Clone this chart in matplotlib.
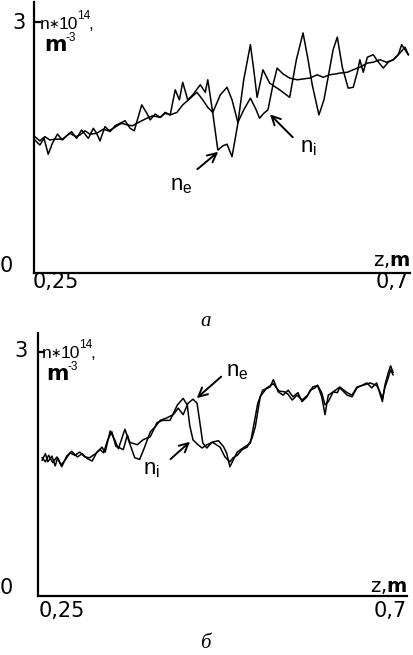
import matplotlib.pyplot as plt

plt.rcParams['font.family'] = ['Liberation Sans', 'DejaVu Sans']
plt.rcParams['mathtext.default'] = 'regular'

# panel a: electron and ion density along z
za_e = [0.251, 0.257, 0.262, 0.267, 0.272, 0.278, 0.284, 0.289, 0.295, 0.301,
        0.307, 0.315, 0.321, 0.325, 0.329, 0.335, 0.341, 0.347, 0.353, 0.359,
        0.365, 0.370, 0.374, 0.379, 0.385, 0.389, 0.395, 0.401, 0.407, 0.413,
        0.419, 0.424, 0.428, 0.434, 0.440, 0.449, 0.455, 0.458, 0.464, 0.470,
        0.476, 0.481, 0.487, 0.494, 0.501, 0.509, 0.513, 0.517, 0.524, 0.532,
        0.544, 0.556, 0.564, 0.572, 0.578, 0.583, 0.591, 0.597, 0.602, 0.608,
        0.613, 0.619, 0.626, 0.632, 0.637, 0.640, 0.644, 0.649, 0.656, 0.660,
        0.668, 0.674, 0.680, 0.686, 0.690, 0.694, 0.698]
na_e = [1.59, 1.53, 1.61, 1.42, 1.55, 1.66, 1.59, 1.64, 1.69, 1.61,
        1.71, 1.61, 1.73, 1.67, 1.58, 1.75, 1.69, 1.76, 1.79, 1.82,
        1.73, 1.70, 1.84, 2.01, 1.91, 1.83, 1.90, 1.86, 1.92, 1.89,
        2.19, 2.07, 2.28, 2.07, 2.13, 2.25, 2.16, 2.31, 1.91, 1.47,
        1.52, 1.54, 1.39, 1.79, 2.31, 2.73, 2.43, 2.10, 2.43, 2.27,
        2.19, 2.10, 2.55, 2.87, 2.55, 2.25, 1.89, 2.07, 2.34, 2.67,
        2.82, 2.46, 2.21, 2.22, 2.40, 2.55, 2.40, 2.58, 2.61, 2.55,
        2.45, 2.52, 2.55, 2.61, 2.73, 2.67, 2.61]

za_i = [0.251, 0.257, 0.263, 0.269, 0.275, 0.284, 0.293, 0.300, 0.305, 0.311,
        0.317, 0.325, 0.333, 0.339, 0.345, 0.351, 0.355, 0.362, 0.368, 0.373,
        0.379, 0.385, 0.392, 0.401, 0.407, 0.413, 0.421, 0.428, 0.437, 0.445,
        0.452, 0.458, 0.464, 0.473, 0.481, 0.487, 0.494, 0.501, 0.509, 0.515,
        0.520, 0.525, 0.530, 0.536, 0.541, 0.548, 0.556, 0.565, 0.572, 0.580,
        0.589, 0.596, 0.604, 0.611, 0.616, 0.625, 0.632, 0.640, 0.649, 0.656,
        0.664, 0.672, 0.680, 0.688, 0.694, 0.698]
na_i = [1.63, 1.58, 1.63, 1.59, 1.60, 1.60, 1.67, 1.63, 1.65, 1.70,
        1.66, 1.67, 1.72, 1.70, 1.73, 1.77, 1.79, 1.77, 1.76, 1.79,
        1.82, 1.85, 1.88, 1.86, 1.91, 1.89, 1.92, 2.01, 2.09, 2.16,
        2.07, 1.98, 1.92, 2.13, 2.22, 2.07, 1.80, 1.95, 2.09, 1.97,
        1.85, 1.91, 1.95, 2.25, 2.45, 2.38, 2.33, 2.31, 2.32, 2.33,
        2.37, 2.34, 2.37, 2.38, 2.39, 2.40, 2.43, 2.46, 2.51, 2.52,
        2.55, 2.52, 2.55, 2.63, 2.70, 2.61]

# panel b
zb_e = [0.255, 0.259, 0.262, 0.267, 0.271, 0.274, 0.279, 0.285, 0.291, 0.298,
        0.304, 0.310, 0.316, 0.322, 0.328, 0.332, 0.338, 0.344, 0.348, 0.356,
        0.362, 0.368, 0.374, 0.380, 0.387, 0.393, 0.399, 0.407, 0.415, 0.421,
        0.427, 0.433, 0.439, 0.444, 0.451, 0.456, 0.462, 0.470, 0.476, 0.480,
        0.484, 0.488, 0.493, 0.500, 0.509, 0.512, 0.518, 0.524, 0.533, 0.537,
        0.543, 0.549, 0.555, 0.561, 0.567, 0.572, 0.578, 0.582, 0.588, 0.591,
        0.596, 0.600, 0.604, 0.610, 0.615, 0.618, 0.627, 0.633, 0.639, 0.645,
        0.651, 0.657, 0.663, 0.670, 0.673, 0.677, 0.680, 0.683]
nb_e = [1.67, 1.75, 1.65, 1.72, 1.60, 1.70, 1.59, 1.72, 1.78, 1.71,
        1.75, 1.69, 1.66, 1.77, 1.83, 1.77, 2.03, 1.91, 1.81, 2.05,
        1.87, 1.70, 1.68, 1.83, 2.02, 2.08, 2.16, 2.19, 2.23, 2.31,
        2.23, 2.37, 2.42, 2.37, 1.88, 1.82, 1.89, 1.91, 1.84, 1.76,
        1.59, 1.67, 1.77, 1.82, 1.88, 2.04, 2.37, 2.53, 2.57, 2.66,
        2.51, 2.47, 2.53, 2.45, 2.50, 2.39, 2.45, 2.53, 2.56, 2.59,
        2.45, 2.23, 2.47, 2.51, 2.50, 2.56, 2.47, 2.45, 2.56, 2.59,
        2.62, 2.56, 2.62, 2.39, 2.59, 2.74, 2.83, 2.75]

zb_i = [0.255, 0.259, 0.263, 0.268, 0.273, 0.278, 0.283, 0.289, 0.295, 0.301,
        0.307, 0.313, 0.320, 0.326, 0.330, 0.335, 0.340, 0.345, 0.350, 0.354,
        0.359, 0.362, 0.371, 0.378, 0.387, 0.395, 0.402, 0.411, 0.420, 0.427,
        0.432, 0.435, 0.439, 0.444, 0.450, 0.456, 0.463, 0.472, 0.478, 0.484,
        0.488, 0.493, 0.499, 0.505, 0.511, 0.515, 0.521, 0.529, 0.537, 0.544,
        0.551, 0.555, 0.560, 0.566, 0.572, 0.579, 0.585, 0.591, 0.596, 0.600,
        0.604, 0.610, 0.618, 0.627, 0.633, 0.639, 0.646, 0.655, 0.663, 0.667,
        0.670, 0.673, 0.677, 0.680, 0.683]
nb_i = [1.70, 1.65, 1.73, 1.64, 1.71, 1.61, 1.67, 1.76, 1.73, 1.77,
        1.71, 1.70, 1.75, 1.80, 1.76, 1.92, 2.02, 1.84, 1.82, 1.80,
        1.98, 1.89, 1.86, 1.92, 1.96, 2.13, 2.16, 2.16, 2.35, 2.43,
        2.35, 2.10, 1.92, 1.87, 1.82, 1.86, 1.89, 1.83, 1.71, 1.65,
        1.70, 1.73, 1.80, 1.83, 1.94, 2.08, 2.45, 2.56, 2.61, 2.52,
        2.51, 2.48, 2.41, 2.47, 2.41, 2.47, 2.57, 2.59, 2.50, 2.35,
        2.39, 2.51, 2.57, 2.50, 2.47, 2.57, 2.59, 2.62, 2.59, 2.51,
        2.43, 2.56, 2.68, 2.78, 2.72]

W, H = 414, 655
fig = plt.figure(figsize=(W / 100, H / 100), dpi=100)
renderer = fig.canvas.get_renderer()

SANS = ['Liberation Sans', 'DejaVu Sans']
WIDE = 'DejaVu Sans'


def box(l, t, r, b):
    return [l / W, 1 - b / H, (r - l) / W, (b - t) / H]


def ptext(x, y, s, **kw):
    kw.setdefault('size', 15)
    kw.setdefault('family', WIDE)
    return fig.text(x / W, 1 - y / H, s, **kw)


def chain(x, y, parts):
    # each piece starts where the previous one ended
    for s, dy, kw in parts:
        t = ptext(x, y + dy, s, ha='left', va='baseline', **kw)
        x = t.get_window_extent(renderer).x1 - 1


def ylabel(x, y):
    chain(x, y, [('n', 0, dict(size=12.5, family=SANS)),
                 ('\u2217', -1, dict(size=9, family=WIDE)),
                 ('10', 0, dict(size=12.5, family=SANS)),
                 ('14', -10, dict(size=8.5, family=SANS)),
                 (',', 0, dict(size=12.5, family=SANS))])
    chain(x + 4, y + 22, [('m', 0, dict(size=15.5, weight='bold')),
                          ('-3', -10, dict(size=8.5, family=SANS))])


def style(ax, top):
    ax.set_xlim(0.25, 0.7)
    ax.set_ylim(0, top)
    for s in ['top', 'right']:
        ax.spines[s].set_visible(False)
    for s in ['left', 'bottom']:
        ax.spines[s].set_linewidth(1.6)
    ax.set_xticks([])
    ax.set_yticks([3])
    ax.tick_params(axis='y', direction='in', length=5, width=1.6, labelleft=False)
    ax.patch.set_alpha(0)


arrow = dict(arrowstyle='->', color='black', lw=1.4, mutation_scale=16)
lab = dict(size=16, ha='center', va='center', family=SANS)

# ---- panel a
ax1 = fig.add_axes(box(34, 2, 410, 273))
style(ax1, 3.24)
ax1.plot(za_e, na_e, color='black', lw=1.1)
ax1.plot(za_i, na_i, color='black', lw=1.1)
ax1.annotate('', xy=(0.473, 1.47), xytext=(0.443, 1.22), arrowprops=arrow)
ax1.annotate('', xy=(0.530, 1.92), xytext=(0.562, 1.60), arrowprops=arrow)
ax1.text(0.426, 1.05, '$n_e$', **lab)
ax1.text(0.578, 1.50, '$n_i$', **lab)

ptext(26, 23, '3', ha='right', va='center')
ptext(13, 266, '0', ha='right', va='center')
ptext(33, 288, '0,25', ha='left', va='baseline')
ptext(409, 288, '0,7', ha='right', va='baseline')
ptext(410, 266, r'z,$\mathbf{m}$', ha='right', va='baseline', size=14)
ylabel(40, 29)
ptext(206, 326, '\u0430', family='Liberation Serif', style='italic',
      ha='center', va='baseline', size=15)

# ---- panel b
ax2 = fig.add_axes(box(38, 333, 407, 596))
style(ax2, 3.234)
ax2.plot(zb_e, nb_e, color='black', lw=1.1)
ax2.plot(zb_i, nb_i, color='black', lw=1.1)
ax2.annotate('', xy=(0.441, 2.41), xytext=(0.476, 2.72), arrowprops=arrow)
ax2.annotate('', xy=(0.438, 1.92), xytext=(0.409, 1.66), arrowprops=arrow)
ax2.text(0.493, 2.76, '$n_e$', **lab)
ax2.text(0.389, 1.55, '$n_i$', **lab)

ptext(28, 351, '3', ha='right', va='center')
ptext(13, 588, '0', ha='right', va='center')
ptext(39, 617, '0,25', ha='left', va='baseline')
ptext(407, 617, '0,7', ha='right', va='baseline')
ptext(407, 592, r'z,$\mathbf{m}$', ha='right', va='baseline', size=14)
ylabel(42, 358)
ptext(205, 648, '\u0431', family='Liberation Serif', style='italic',
      ha='center', va='baseline', size=15)

fig.savefig('out.png', dpi=100)
